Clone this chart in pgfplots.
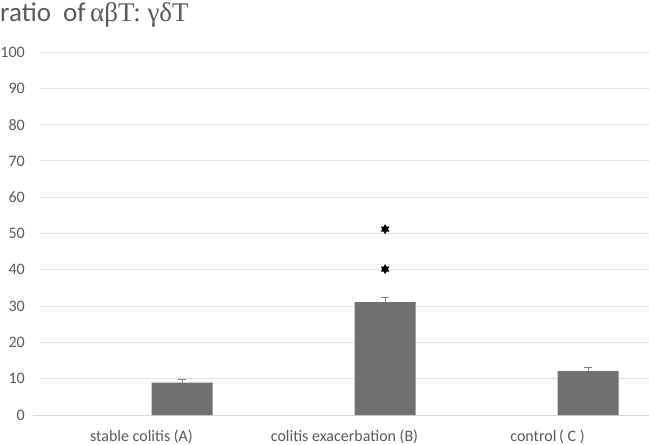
\documentclass[border=0pt]{standalone}
\usepackage{fontspec}
\setmainfont{Carlito}
\newfontfamily\serifgr{Liberation Serif}
\usepackage{pgfplots}
\pgfplotsset{compat=1.18}
\definecolor{txt}{HTML}{595959}
\definecolor{barc}{HTML}{707070}
\definecolor{gridc}{HTML}{E3E3E3}
\definecolor{axc}{HTML}{D9D9D9}
\pgfdeclareplotmark{hexstar}{%
  \pgfpathmoveto{\pgfpointpolar{90}{\pgfplotmarksize}}%
  \pgfpathlineto{\pgfpointpolar{120}{0.577\pgfplotmarksize}}%
  \pgfpathlineto{\pgfpointpolar{150}{\pgfplotmarksize}}%
  \pgfpathlineto{\pgfpointpolar{180}{0.577\pgfplotmarksize}}%
  \pgfpathlineto{\pgfpointpolar{210}{\pgfplotmarksize}}%
  \pgfpathlineto{\pgfpointpolar{240}{0.577\pgfplotmarksize}}%
  \pgfpathlineto{\pgfpointpolar{270}{\pgfplotmarksize}}%
  \pgfpathlineto{\pgfpointpolar{300}{0.577\pgfplotmarksize}}%
  \pgfpathlineto{\pgfpointpolar{330}{\pgfplotmarksize}}%
  \pgfpathlineto{\pgfpointpolar{0}{0.577\pgfplotmarksize}}%
  \pgfpathlineto{\pgfpointpolar{30}{\pgfplotmarksize}}%
  \pgfpathlineto{\pgfpointpolar{60}{0.577\pgfplotmarksize}}%
  \pgfpathclose
  \pgfusepathqfill}
\begin{document}
\begin{tikzpicture}[x=1pt,y=1pt]
\useasboundingbox (0,0) rectangle (649,445);
\node[anchor=base west, text=txt, inner sep=0pt, font=\fontsize{27}{30}\selectfont] at (0,423) {ratio\ \ of\,{\serifgr αβT: γδT}};
\begin{axis}[
  at={(40pt,30pt)}, anchor=south west,
  scale only axis, width=609pt, height=363pt,
  xmin=-0.5, xmax=2.5, ymin=0, ymax=100,
  xtick={0,1,2},
  xticklabels={stable colitis (A), colitis exacerbation (B), control\,( C )},
  ytick={0,10,...,100},
  axis line style={draw=none},
  axis x line*=bottom,
  major tick length=0pt,
  ymajorgrids, grid style={gridc, line width=0.8pt},
  tick label style={text=txt, font=\fontsize{16}{18}\selectfont},
  /pgf/number format/assume math mode=true,
  yticklabel style={anchor=east, inner sep=0pt, xshift=-15pt},
  xticklabel style={anchor=center, inner sep=0pt, yshift=-22pt},
  clip=false,
]
\draw[axc, line width=0.8pt] (axis cs:-0.535,0) -- (axis cs:2.5,0);
\addplot[ybar, bar width=0.30, fill=barc, draw=none,
  error bars/.cd, y dir=plus, y explicit,
  error bar style={color=gray, line width=1pt},
  error mark options={rotate=90, mark size=4pt, line width=1pt, color=gray}]
  coordinates {(0.2,8.9) +- (0,0.9) (1.2,31.1) +- (0,1.3) (2.2,12.1) +- (0,1.0)};
\addplot[only marks, mark=hexstar, mark size=5pt, black]
  coordinates {(1.2,40.2) (1.2,51.2)};
\end{axis}
\end{tikzpicture}
\end{document}
